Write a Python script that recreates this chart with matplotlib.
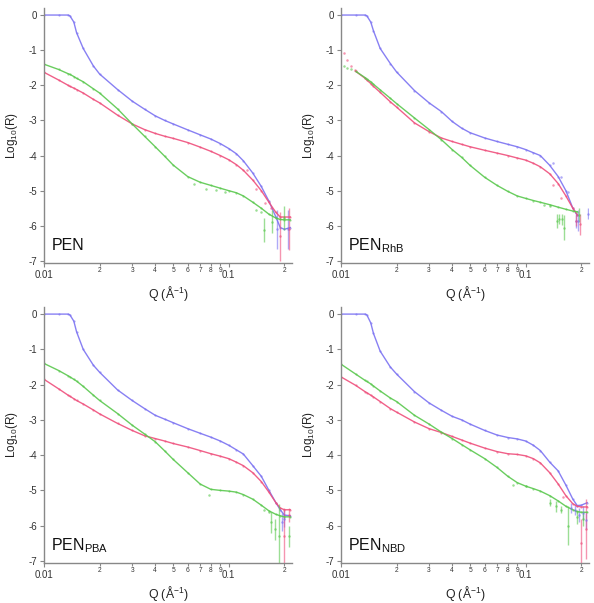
import numpy as np
import matplotlib
matplotlib.use("Agg")
import matplotlib.pyplot as plt

plt.rcParams['font.family'] = ['Liberation Sans', 'DejaVu Sans']
plt.rcParams['mathtext.fontset'] = 'custom'
plt.rcParams['mathtext.rm'] = 'Liberation Sans'

nan = np.nan

# Q grid of the fitted curves (1/Angstrom)
q_fit = [0.010, 0.012, 0.0135, 0.0138, 0.0145, 0.015, 0.0163, 0.0185, 0.02, 0.025,
         0.03, 0.035, 0.04, 0.045, 0.05, 0.06, 0.07, 0.08, 0.09, 0.10,
         0.11, 0.12, 0.135, 0.15, 0.165, 0.18, 0.19, 0.20, 0.215]

labels = ['PEN', r'PEN$_{\mathrm{RhB}}$', r'PEN$_{\mathrm{PBA}}$', r'PEN$_{\mathrm{NBD}}$']

# log10(R) of the fits, panel by panel
pen_blue = [0, 0, 0, -0.02, -0.2, -0.5, -0.95, -1.45, -1.68, -2.12, -2.45, -2.68, -2.87, -3.0, -3.1,
            -3.27, -3.41, -3.53, -3.66, -3.8, -3.95, -4.15, -4.5, -4.88, -5.3, -5.75, -6.05, -6.1, -6.05]
pen_red = [-1.63, -1.85, -2.0, -2.03, -2.08, -2.12, -2.22, -2.4, -2.5, -2.85, -3.1, -3.26, -3.37, -3.45, -3.51,
           -3.63, -3.76, -3.88, -4.0, -4.12, -4.26, -4.42, -4.7, -5.0, -5.33, -5.62, -5.75, -5.75, -5.75]
pen_green = [-1.4, -1.55, -1.67, -1.69, -1.75, -1.8, -1.9, -2.1, -2.22, -2.67, -3.1, -3.45, -3.75, -4.02, -4.27,
             -4.6, -4.76, -4.85, -4.93, -5.0, -5.06, -5.15, -5.33, -5.5, -5.67, -5.78, -5.82, -5.83, -5.83]

rhb_blue = [0, 0, 0, -0.02, -0.2, -0.45, -0.95, -1.38, -1.62, -2.15, -2.5, -2.75, -3.03, -3.22, -3.35,
            -3.5, -3.6, -3.68, -3.75, -3.83, -3.92, -4.0, -4.28, -4.6, -5.0, -5.5, -5.7, nan, nan]
rhb_red = [nan, -1.6, -1.8, -1.85, -1.95, -2.03, -2.2, -2.47, -2.62, -3.07, -3.32, -3.5, -3.6, -3.68, -3.75,
           -3.85, -3.93, -4.0, -4.07, -4.13, -4.22, -4.32, -4.52, -4.8, -5.15, -5.5, -5.68, nan, nan]
rhb_green = [nan, -1.6, -1.78, -1.82, -1.9, -1.97, -2.13, -2.37, -2.52, -2.93, -3.26, -3.55, -3.83, -4.05, -4.28,
             -4.62, -4.85, -5.02, -5.15, -5.22, -5.28, -5.33, -5.4, -5.47, -5.53, -5.58, -5.6, nan, nan]

pba_blue = [0, 0, 0, -0.02, -0.2, -0.5, -1.0, -1.45, -1.65, -2.15, -2.45, -2.68, -2.87, -2.98, -3.08,
            -3.25, -3.38, -3.49, -3.6, -3.72, -3.85, -3.97, -4.3, -4.6, -5.0, -5.35, -5.55, -5.7, -5.72]
pba_red = [-1.85, -2.12, -2.3, -2.33, -2.4, -2.45, -2.55, -2.72, -2.83, -3.1, -3.3, -3.45, -3.53, -3.6, -3.67,
           -3.77, -3.87, -3.96, -4.03, -4.1, -4.2, -4.3, -4.5, -4.75, -5.05, -5.35, -5.5, -5.55, -5.55]
pba_green = [-1.4, -1.6, -1.75, -1.78, -1.85, -1.9, -2.05, -2.3, -2.45, -2.82, -3.15, -3.4, -3.62, -3.88, -4.12,
             -4.5, -4.82, -4.97, -5.0, -5.02, -5.05, -5.12, -5.25, -5.42, -5.58, -5.68, -5.72, -5.75, -5.75]

nbd_blue = [0, 0, 0, -0.02, -0.25, -0.55, -1.05, -1.5, -1.7, -2.2, -2.52, -2.73, -2.9, -3.0, -3.12,
            -3.3, -3.43, -3.5, -3.54, -3.6, -3.72, -3.87, -4.2, -4.45, -4.85, -5.25, -5.43, -5.42, -5.35]
nbd_red = [-1.78, -2.02, -2.2, -2.23, -2.3, -2.35, -2.48, -2.68, -2.78, -3.06, -3.25, -3.36, -3.47, -3.57, -3.66,
           -3.8, -3.9, -3.96, -3.98, -4.02, -4.1, -4.22, -4.5, -4.82, -5.15, -5.38, -5.45, -5.47, -5.47]
nbd_green = [-1.42, -1.7, -1.88, -1.91, -1.98, -2.04, -2.18, -2.38, -2.48, -2.87, -3.12, -3.35, -3.53, -3.7, -3.85,
             -4.1, -4.35, -4.6, -4.78, -4.88, -4.95, -5.02, -5.15, -5.3, -5.45, -5.55, -5.6, -5.62, -5.62]

# scattered data points off the fits (q, log10 R, error)
pen_blue_q, pen_blue_y, pen_blue_e = [0.183, 0.21], [-6.1, -6.1], [0.55, 0.55]
pen_red_q, pen_red_y, pen_red_e = [0.125, 0.14, 0.158, 0.17, 0.19, 0.213], [-4.4, -4.95, -5.35, -5.5, -6.3, -6.1], [0, 0, 0, 0, 0.7, 0.6]
pen_green_q = [0.065, 0.075, 0.085, 0.095, 0.14, 0.15, 0.156, 0.172, 0.2]
pen_green_y = [-4.8, -4.95, -4.97, -5.05, -5.55, -5.6, -6.12, -5.88, -5.78]
pen_green_e = [0, 0, 0, 0, 0, 0, 0.33, 0.33, 0.33]

rhb_blue_q, rhb_blue_y, rhb_blue_e = [0.14, 0.155, 0.17, 0.187, 0.193, 0.217], [-4.2, -4.6, -5.05, -5.85, -5.85, -5.65], [0, 0, 0, 0.2, 0.3, 0.15]
rhb_red_q = [0.0104, 0.0108, 0.0113, 0.0119, 0.14, 0.155, 0.187, 0.196]
rhb_red_y = [-1.07, -1.27, -1.46, -1.57, -4.85, -5.2, -5.85, -5.95]
rhb_red_e = [0, 0, 0, 0, 0, 0, 0.15, 0.3]
rhb_green_q = [0.0104, 0.0108, 0.0113, 0.125, 0.135, 0.147, 0.152, 0.157, 0.162, 0.195]
rhb_green_y = [-1.45, -1.5, -1.55, -5.4, -5.45, -5.85, -5.8, -5.82, -6.05, -5.7]
rhb_green_e = [0, 0, 0, 0, 0, 0.2, 0.15, 0.15, 0.35, 0.2]

pba_blue_q, pba_blue_y, pba_blue_e = [0.195, 0.2], [-5.9, -5.8], [0.25, 0.25]
pba_red_q, pba_red_y, pba_red_e = [0.2, 0.213], [-6.3, -5.7], [0.8, 0.2]
pba_green_q = [0.078, 0.155, 0.165, 0.17, 0.178, 0.188, 0.213]
pba_green_y = [-5.12, -5.55, -5.6, -5.9, -6.1, -6.3, -6.3]
pba_green_e = [0, 0, 0, 0.3, 0.3, 0.9, 0.3]

nbd_blue_q, nbd_blue_y, nbd_blue_e = [0.175, 0.186, 0.195, 0.205, 0.213], [-5.5, -5.55, -5.7, -5.65, -5.85], [0.15, 0.15, 0.2, 0.2, 0.25]
nbd_red_q, nbd_red_y, nbd_red_e = [0.16, 0.2, 0.213], [-5.2, -6.5, -6.1], [0, 0.7, 0.85]
nbd_green_q = [0.085, 0.1, 0.135, 0.145, 0.155, 0.17, 0.19, 0.205]
nbd_green_y = [-4.85, -4.88, -5.35, -5.45, -5.55, -6.0, -5.75, -5.8]
nbd_green_e = [0, 0, 0.1, 0.15, 0.1, 0.55, 0.2, 0.2]

fits = [(pen_blue, pen_red, pen_green), (rhb_blue, rhb_red, rhb_green),
        (pba_blue, pba_red, pba_green), (nbd_blue, nbd_red, nbd_green)]
scatter = [
    [(pen_blue_q, pen_blue_y, pen_blue_e), (pen_red_q, pen_red_y, pen_red_e), (pen_green_q, pen_green_y, pen_green_e)],
    [(rhb_blue_q, rhb_blue_y, rhb_blue_e), (rhb_red_q, rhb_red_y, rhb_red_e), (rhb_green_q, rhb_green_y, rhb_green_e)],
    [(pba_blue_q, pba_blue_y, pba_blue_e), (pba_red_q, pba_red_y, pba_red_e), (pba_green_q, pba_green_y, pba_green_e)],
    [(nbd_blue_q, nbd_blue_y, nbd_blue_e), (nbd_red_q, nbd_red_y, nbd_red_e), (nbd_green_q, nbd_green_y, nbd_green_e)],
]
colors = ['#7b72f2', '#ef4f7c', '#5ac84e']

minor_q = [0.02, 0.03, 0.04, 0.05, 0.06, 0.07, 0.08, 0.09, 0.2]
minor_lab = ['2', '3', '4', '5', '6', '7', '8', '9', '2']

fig = plt.figure(figsize=(5.94, 6.03), dpi=100)
positions = [[0.0741, 0.5638, 0.4175, 0.4229], [0.574, 0.5638, 0.4175, 0.4229],
             [0.0741, 0.0663, 0.4175, 0.4245], [0.574, 0.0663, 0.4175, 0.4245]]

for i in range(4):
    ax = fig.add_axes(positions[i])
    for c, yv, (sq, sy, se) in zip(colors, fits[i], scatter[i]):
        ax.plot(q_fit, yv, color=c, lw=1.0, alpha=0.9)
        ax.plot(q_fit, yv, 'o', color=c, ms=1.6, alpha=0.6, mec='none')
        ax.errorbar(sq, sy, yerr=se, fmt='o', color=c, ms=1.8, elinewidth=1.0,
                    capsize=0, alpha=0.6, mec='none')
    ax.set_xscale('log')
    ax.set_xlim(0.01, 0.22)
    ax.set_ylim(-7.06, 0.2)
    for s in ['top', 'right']:
        ax.spines[s].set_visible(False)
    for s in ['left', 'bottom']:
        ax.spines[s].set_color('#888888')
        ax.spines[s].set_linewidth(1.0)
    ax.set_yticks(range(-7, 1))
    ax.set_yticklabels([str(v) for v in range(-7, 1)])
    ax.set_xticks([0.01, 0.1], ['0.01', '0.1'])
    ax.set_xticks(minor_q, minor_lab, minor=True)
    ax.tick_params(axis='both', which='major', direction='out', length=3, width=0.8,
                   color='#888888', labelsize=7, labelcolor='#333333', pad=2)
    ax.tick_params(axis='x', which='minor', direction='out', length=2, width=0.8,
                   color='#888888', labelsize=4.8, labelcolor='#333333', pad=1)
    ax.set_xlabel('Q (Å$^{-1}$)', fontsize=8.8, color='#222222', labelpad=3)
    ax.set_ylabel('Log$_{10}$(R)', fontsize=8.5, color='#222222', labelpad=6)
    ax.text(0.03, 0.05, labels[i], transform=ax.transAxes, fontsize=11.5, color='#111111')

fig.savefig('out.png', dpi=100)
